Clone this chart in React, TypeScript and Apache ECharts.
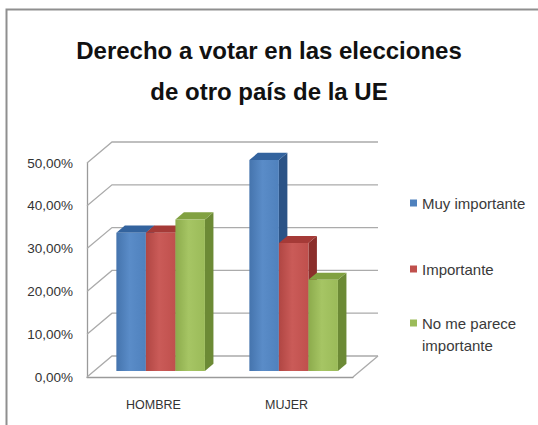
import React, { useEffect, useRef } from 'react';
import * as echarts from 'echarts';

const categories = ['HOMBRE', 'MUJER'];
const seriesNames = ['Muy importante', 'Importante', 'No me parece importante'];
const muyImportante = [32.3, 49.3];
const importante = [32.3, 29.9];
const noMeParece = [35.4, 21.3];
const yTicks = [0, 10, 20, 30, 40, 50];
const titleText = 'Derecho a votar en las elecciones\nde otro país de la UE';

const DX = 25;
const DY = -21;
const BAR_FRONT = 0.286;
const BAR_DEPTH = 0.34;
const BAR_W = 0.222;
const FONT = '"Liberation Sans", Arial, sans-serif';

const palettes = [
  { front: '#4F81BD', light: '#5a8cc8', dark: '#4574ad', top: '#33639e', side: '#2b5386' },
  { front: '#C0504D', light: '#ca5b58', dark: '#b04643', top: '#a53a37', side: '#8b2e2b' },
  { front: '#9BBB59', light: '#a6c564', dark: '#8cab4c', top: '#81a141', side: '#6c8a35' },
];

const seriesValues = [muyImportante, importante, noMeParece];

function makeBarRender(si: number) {
  return (params: any, api: any) => {
    const ci = api.value(0);
    const val = api.value(1);
    const base = api.coord([ci, 0]);
    const topP = api.coord([ci, val]);
    const band = api.size([1, 0])[0];
    const w = band * BAR_W;
    const ox = DX * BAR_FRONT;
    const oy = DY * BAR_FRONT;
    const bx = DX * BAR_DEPTH;
    const by = DY * BAR_DEPTH;
    const l = base[0] - 1.5 * w + si * w + ox;
    const r = l + w;
    const b = base[1] + oy;
    const t = topP[1] + oy;
    const p = palettes[si];
    return {
      type: 'group',
      children: [
        {
          type: 'polygon',
          shape: { points: [[r, t], [r + bx, t + by], [r + bx, b + by], [r, b]] },
          style: { fill: p.side },
        },
        {
          type: 'polygon',
          shape: { points: [[l, t], [r, t], [r + bx, t + by], [l + bx, t + by]] },
          style: { fill: p.top },
        },
        {
          type: 'rect',
          shape: { x: l, y: t, width: w, height: b - t },
          style: {
            fill: new echarts.graphic.LinearGradient(0, 0, 1, 0, [
              { offset: 0, color: p.dark },
              { offset: 0.45, color: p.light },
              { offset: 1, color: p.front },
            ]),
          },
        },
      ],
    };
  };
}

function wallRender(params: any, api: any) {
  const v = api.value(1);
  const cs = params.coordSys;
  const y = api.coord([0, v])[1];
  const x0 = cs.x;
  const x1 = cs.x + cs.width;
  const stroke = { stroke: '#ababab', lineWidth: 1.3, fill: 'none' };
  const children: any[] = [
    {
      type: 'polyline',
      shape: { points: [[x0, y], [x0 + DX, y + DY], [x1 + DX, y + DY]] },
      style: stroke,
    },
  ];
  if (v === 0) {
    children.push({
      type: 'line',
      shape: { x1: x1, y1: y, x2: x1 + DX, y2: y + DY },
      style: stroke,
    });
  }
  return { type: 'group', children };
}

export default function App() {
  const ref = useRef<HTMLDivElement>(null);
  useEffect(() => {
    if (!ref.current) return;
    const chart = echarts.init(ref.current, undefined, { renderer: 'svg' });
    const legendBase = {
      orient: 'vertical',
      left: 410,
      padding: 0,
      itemWidth: 7,
      itemHeight: 7,
      icon: 'rect',
      textStyle: { fontFamily: FONT, fontSize: 15, color: '#3a3a3a', lineHeight: 22 },
    };
    chart.setOption({
      animation: false,
      backgroundColor: '#ffffff',
      title: {
        text: titleText,
        left: 'center',
        top: 30,
        padding: 0,
        textStyle: {
          fontFamily: FONT,
          fontSize: 24,
          fontWeight: 'bold',
          color: '#111111',
          lineHeight: 41,
        },
      },
      legend: [
        { ...legendBase, top: 192, data: [seriesNames[0]] },
        { ...legendBase, top: 258, data: [seriesNames[1]] },
        {
          ...legendBase,
          top: 290,
          data: [seriesNames[2]],
          formatter: () => ' \nNo me parece\nimportante',
        },
      ],
      grid: { left: 87, right: 185, top: 163, bottom: 48, containLabel: false },
      xAxis: {
        type: 'category',
        data: categories,
        axisLine: { show: true, lineStyle: { color: '#9a9a9a', width: 1.3 } },
        axisTick: { show: false },
        splitLine: { show: false },
        axisLabel: { fontFamily: FONT, fontSize: 12.5, color: '#333333', margin: 21 },
      },
      yAxis: {
        type: 'value',
        min: 0,
        max: 50,
        interval: 10,
        axisLine: { show: true, lineStyle: { color: '#9a9a9a', width: 1.3 } },
        axisTick: { show: false },
        splitLine: { show: false },
        axisLabel: {
          fontFamily: FONT,
          fontSize: 13.5,
          color: '#333333',
          margin: 14,
          formatter: (v: number) => v.toFixed(2).replace('.', ',') + '%',
        },
      },
      graphic: [
        {
          type: 'rect',
          shape: { x: 6.5, y: 9.5, width: 800, height: 800 },
          style: { fill: 'none', stroke: '#8f8f8f', lineWidth: 2 },
          silent: true,
        },
      ],
      series: [
        {
          type: 'custom',
          name: 'walls',
          renderItem: wallRender,
          clip: false,
          z: 1,
          silent: true,
          encode: { x: 0, y: 1 },
          data: yTicks.map((v) => [0, v]),
        },
        ...seriesNames.map((name, si) => ({
          type: 'custom',
          name,
          renderItem: makeBarRender(si),
          clip: false,
          z: 2 + si,
          itemStyle: { color: palettes[si].front },
          encode: { x: 0, y: 1 },
          data: seriesValues[si].map((v, i) => [i, v]),
        })),
      ],
    });
    return () => chart.dispose();
  }, []);
  return (
    <div
      ref={ref}
      style={{ position: 'fixed', left: 0, top: 0, width: 538, height: 425, background: '#fff' }}
    />
  );
}
